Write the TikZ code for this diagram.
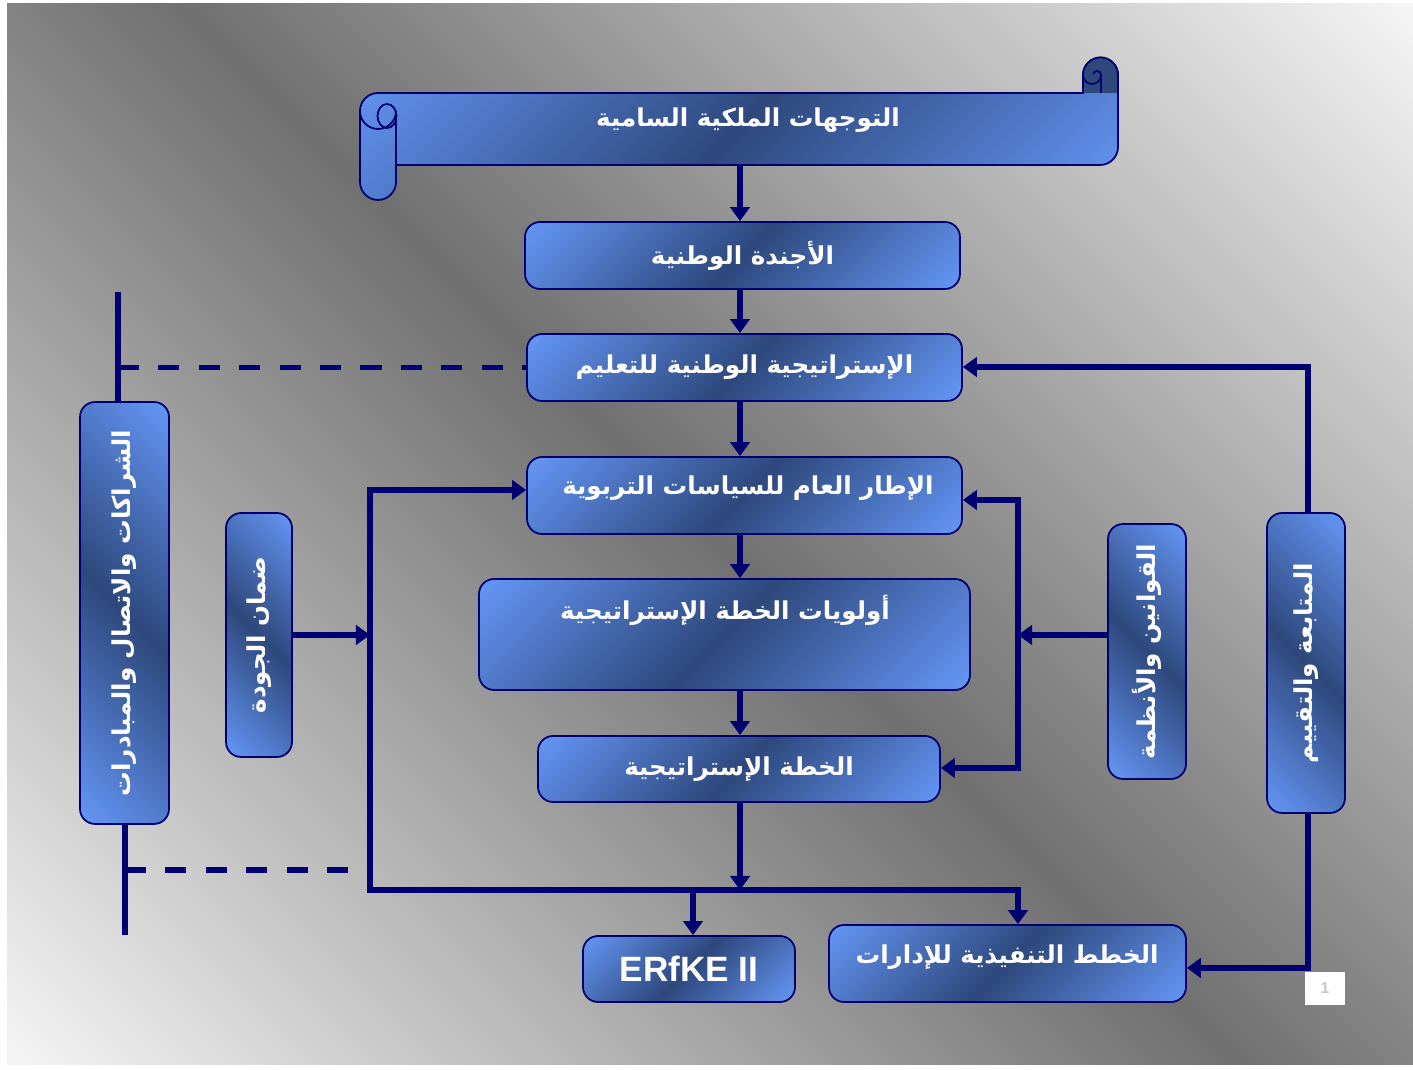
\documentclass[tikz,border=0pt]{standalone}
\usepackage{fontspec}
\usepackage{xcolor}
\usetikzlibrary{arrows.meta}
\TeXXeTstate=1
\newfontfamily\arabicfont[Script=Arabic]{DejaVu Sans}
\newfontfamily\latinfont{Liberation Sans}

\definecolor{linenavy}{RGB}{0,0,112}
\definecolor{boxlight}{RGB}{100,150,245}
\definecolor{boxdark}{RGB}{46,72,124}
\definecolor{bglight}{RGB}{243,243,243}
\definecolor{bgdark}{RGB}{112,112,112}
\pgfdeclarehorizontalshading{boxshade}{100bp}{color(0bp)=(boxlight); color(15bp)=(boxlight); color(50bp)=(boxdark); color(85bp)=(boxlight); color(100bp)=(boxlight)}
\pgfdeclarehorizontalshading{bgshade}{100bp}{color(0bp)=(bglight); color(15bp)=(bglight); color(50bp)=(bgdark); color(85bp)=(bglight); color(100bp)=(bglight)}

\newcommand{\artxt}[1]{{\arabicfont\beginR #1\endR}}

\tikzset{
	hbox/.style={draw=linenavy, line width=1pt, rounded corners=0.3cm, shade, shading=boxshade, shading angle=-45, inner sep=0pt, text=white, font=\bfseries\fontsize{14}{16}\selectfont},
	vbox/.style={draw=linenavy, line width=1pt, rounded corners=0.3cm, shade, shading=boxshade, shading angle=45, inner sep=0pt},
	htext/.style={text=white, inner sep=0pt, font=\bfseries\fontsize{14}{16}\selectfont},
	vtext/.style={text=white, inner sep=0pt, rotate=90, font=\bfseries\fontsize{14}{16}\selectfont},
	scrollline/.style={draw=linenavy, line width=1pt},
	conn/.style={draw=linenavy, line width=3pt},
	arr/.style={conn, -{Triangle[length=8pt,width=11pt]}},
	dblarr/.style={conn, {Triangle[length=8pt,width=11pt]}-{Triangle[length=8pt,width=11pt]}},
	dashline/.style={conn, dash pattern=on 12pt off 11pt},
	pagebox/.style={fill=white, minimum width=0.8cm, minimum height=0.66cm, inner sep=0pt, text=black!22, font=\latinfont\bfseries\small}
}

\begin{document}
\begin{tikzpicture}[x=0.02cm, y=0.02cm]
	\useasboundingbox (0,0) rectangle (1413,1070);
	\fill[white] (0,0) rectangle (1413,1070);
	\shade[shading=bgshade, shading angle=45] (7,5) rectangle (1413,1066);

	% scroll
	\draw[scrollline, shade, shading=boxshade, shading angle=-45]
		(378,977) -- (1083,977) -- (1083,995) arc[start angle=180, end angle=0, radius=17.5] --
		(1118,923) arc[start angle=0, end angle=-90, radius=18] -- (396,905) --
		(396,888) arc[start angle=0, end angle=-180, radius=18] --
		(360,959) arc[start angle=180, end angle=90, radius=18] -- cycle;
	\fill[boxdark] (1083,977) -- (1083,995) arc[start angle=180, end angle=0, radius=17.5] -- (1118,977) -- cycle;
	\draw[scrollline] (1083,977) -- (1083,995) arc[start angle=180, end angle=0, radius=17.5] -- (1118,977);
	\draw[scrollline] (1083,995) arc[start angle=180, end angle=360, radius=9] -- (1101,977);
	\draw[scrollline] (1101,995) arc[start angle=0, end angle=160, radius=4];
	\draw[scrollline] (396,905) -- (396,959) arc[start angle=0, end angle=-180, radius=18];
	\draw[scrollline] (387,954) ellipse[x radius=9.5, y radius=12];
	\node[htext] (royal) at (748,950) {\artxt{التوجهات الملكية السامية}};

	% boxes
	\node[hbox, minimum width=8.7cm, minimum height=1.34cm] (agenda) at (742.5,814.5) {\artxt{الأجندة الوطنية}};
	\node[hbox, minimum width=8.7cm, minimum height=1.34cm] (strat) at (744.5,702.5) {\artxt{الإستراتيجية الوطنية للتعليم}};
	\node[hbox, minimum width=8.7cm, minimum height=1.54cm] (frame) at (744.5,574.5) {};
	\node[htext] (frame-t) at (748,582) {\artxt{الإطار العام للسياسات التربوية}};
	\node[hbox, minimum width=9.82cm, minimum height=2.22cm] (prio) at (724.5,435.5) {};
	\node[htext] (prio-t) at (725,460) {\artxt{أولويات الخطة الإستراتيجية}};
	\node[hbox, minimum width=8.04cm, minimum height=1.32cm] (plan) at (739,301) {\artxt{الخطة الإستراتيجية}};
	\node[hbox, minimum width=4.24cm, minimum height=1.32cm, font=\latinfont\bfseries\fontsize{20}{22}\selectfont] (erfke) at (689,101) {ERfKE II};
	\node[hbox, minimum width=7.14cm, minimum height=1.54cm] (exec) at (1007.5,106.5) {};
	\node[htext] (exec-t) at (1007,113) {\artxt{الخطط التنفيذية للإدارات}};

	\node[vbox, minimum width=1.78cm, minimum height=8.44cm] (partner) at (124.5,457) {};
	\node[vtext] (partner-t) at (partner) {\artxt{الشراكات والاتصال والمبادرات}};
	\node[vbox, minimum width=1.32cm, minimum height=4.88cm] (quality) at (259,435) {};
	\node[vtext] (quality-t) at (quality) {\artxt{ضمان الجودة}};
	\node[vbox, minimum width=1.56cm, minimum height=5.1cm] (laws) at (1147,418.5) {};
	\node[vtext] (laws-t) at (laws) {\artxt{القوانين  والأنظمة}};
	\node[vbox, minimum width=1.56cm, minimum height=6cm] (monitor) at (1306,407) {};
	\node[vtext] (monitor-t) at (monitor) {\artxt{المتابعة والتقييم}};

	\node[pagebox] (pnum) at (1325,81.5) {1};

	% connectors
	\coordinate (spine) at (740,905);
	\coordinate (busL) at (370,180);
	\coordinate (busTop) at (370,580);
	\coordinate (busR) at (1018,180);
	\coordinate (erfkeIn) at (693,180);
	\coordinate (lawTop) at (1018,570);
	\coordinate (lawBot) at (1018,302);
	\coordinate (lawIn) at (1018,435);
	\coordinate (monTop) at (1308,703);
	\coordinate (monBot) at (1308,102);
	\coordinate (partTop) at (118,778);
	\coordinate (partBot) at (125,135);
	\coordinate (dashEnd) at (357,200);

	\draw[arr] (spine) -- (agenda.north -| spine);
	\draw[arr] (agenda.south -| spine) -- (strat.north -| spine);
	\draw[arr] (strat.south -| spine) -- (frame.north -| spine);
	\draw[arr] (frame.south -| spine) -- (prio.north -| spine);
	\draw[arr] (prio.south -| spine) -- (plan.north -| spine);
	\draw[arr] (plan.south -| spine) -- (busL -| spine);
	\draw[dblarr] (busTop -| frame.west) -- (busTop) -- (busL) -- (busR) -- (busR |- exec.north);
	\draw[arr] (erfkeIn) -- (erfkeIn |- erfke.north);
	\draw[arr] (quality.east) -- (quality.east -| busL);

	\draw[dblarr] (lawTop -| frame.east) -- (lawTop) -- (lawBot) -- (lawBot -| plan.east);
	\draw[arr] (lawIn -| laws.west) -- (lawIn);

	\draw[arr] (monitor.north -| monTop) -- (monTop) -- (monTop -| strat.east);
	\draw[arr] (monitor.south -| monBot) -- (monBot) -- (monBot -| exec.east);

	\draw[conn] (partner.north -| partTop) -- (partTop);
	\draw[conn] (partner.south -| partBot) -- (partBot);
	\draw[dashline] (partTop |- strat.west) -- (strat.west);
	\draw[dashline] (partBot |- dashEnd) -- (dashEnd);
\end{tikzpicture}
\end{document}
